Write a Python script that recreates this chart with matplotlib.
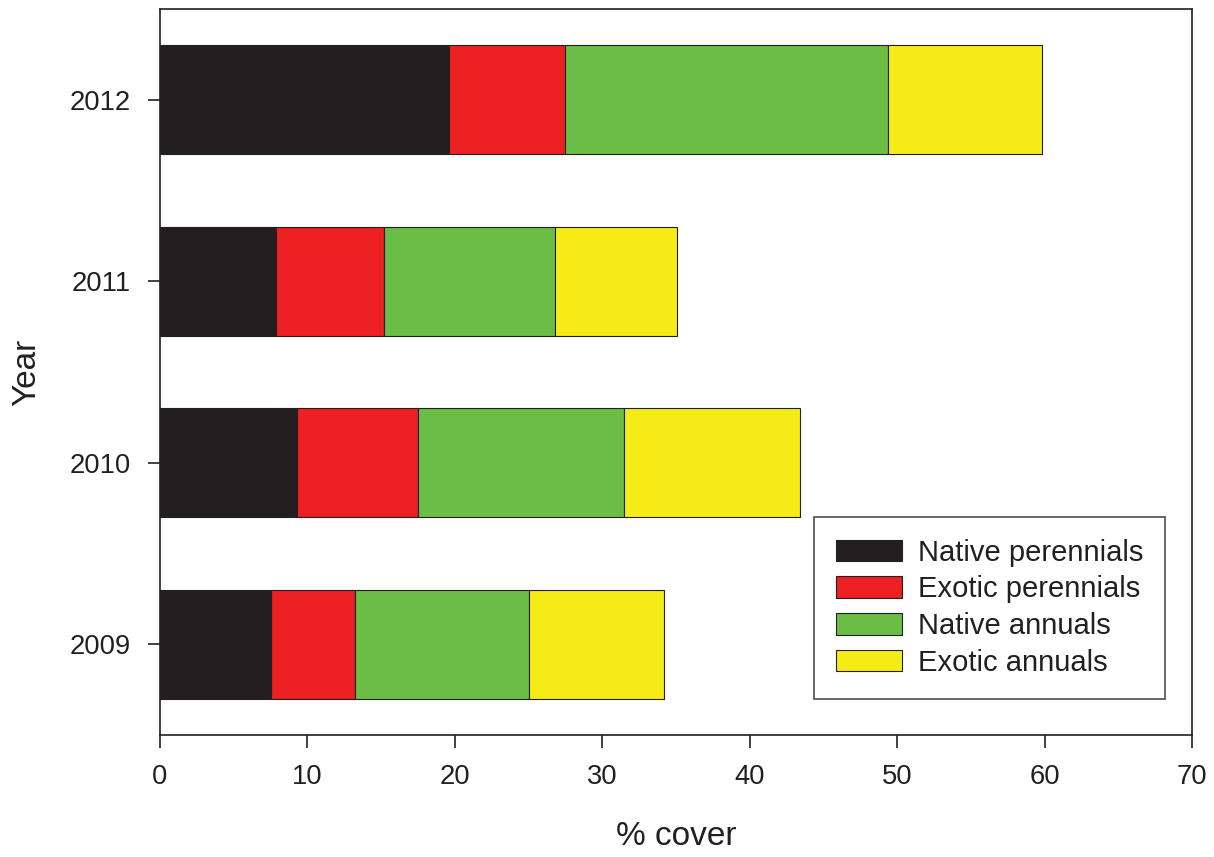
import matplotlib
matplotlib.use("Agg")
import matplotlib.pyplot as plt
import numpy as np

plt.rcParams['font.family'] = ['Liberation Sans', 'DejaVu Sans']

# data (% cover per group, stacked)
years = ['2009', '2010', '2011', '2012']
native_perennials = [7.5, 9.3, 7.9, 19.6]
exotic_perennials = [5.7, 8.2, 7.3, 7.9]
native_annuals = [11.8, 14.0, 11.6, 21.9]
exotic_annuals = [9.2, 11.9, 8.3, 10.4]

series = [
    ('Native perennials', native_perennials, '#231f20'),
    ('Exotic perennials', exotic_perennials, '#ed2024'),
    ('Native annuals', native_annuals, '#6abd45'),
    ('Exotic annuals', exotic_annuals, '#f4eb17'),
]

fig = plt.figure(figsize=(12.14, 8.57), dpi=100)
ax = fig.add_axes([0.1318, 0.1424, 0.8501, 0.8471])

y = np.arange(len(years))
left = np.zeros(len(years))
for name, vals, col in series:
    ax.barh(y, vals, left=left, height=0.6, color=col, edgecolor='#231f20',
            linewidth=0.8, label=name)
    left = left + np.array(vals)

ax.set_xlim(0, 70)
ax.set_ylim(-0.5, 3.5)
ax.set_xticks(np.arange(0, 71, 10))
ax.set_yticks(y)
ax.set_yticklabels(years)
ax.tick_params(axis='both', direction='out', length=9, width=1.2,
               labelsize=19.7, colors='#231f20', pad=12)
for s in ax.spines.values():
    s.set_linewidth(1.2)
    s.set_color('#231f20')

ax.set_xlabel('% cover', fontsize=24, color='#231f20', labelpad=22)
ax.set_ylabel('Year', fontsize=24, color='#231f20', labelpad=20)

leg = ax.legend(loc='lower right', bbox_to_anchor=(0.974, 0.05), fontsize=21,
                frameon=True, fancybox=False, handlelength=2.25, handleheight=0.75,
                handletextpad=0.55, labelspacing=0.3, borderpad=0.75,
                borderaxespad=0)
leg.get_frame().set_edgecolor('#231f20')
leg.get_frame().set_linewidth(1.2)
for t in leg.get_texts():
    t.set_color('#231f20')

fig.savefig('out.png', dpi=100)
